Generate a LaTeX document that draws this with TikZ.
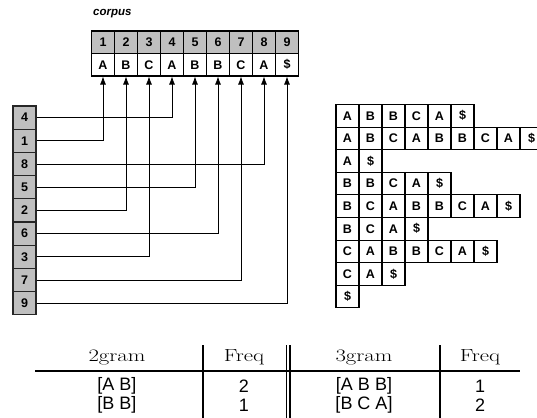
\documentclass[tikz,border=0pt]{standalone}
\usepackage{fontspec}
\setsansfont{Liberation Sans}
\usetikzlibrary{arrows.meta}
\newcommand\hdrtxt[1]{\scalebox{1.3}[1]{\fontsize{17.5}{17.5}\selectfont #1}}
\tikzset{
  cellbase/.style={rectangle, draw=black, line width=1.1pt, inner sep=0pt,
    minimum width=23pt, minimum height=22.5pt,
    font=\sffamily\bfseries\fontsize{12.5}{12.5}\selectfont},
  numcell/.style={cellbase, fill=black!25},
  letcell/.style={cellbase, fill=white},
  sacell/.style={cellbase, fill=black!25, draw=black!85, line width=1.3pt, minimum height=23.2pt},
  sfxcell/.style={cellbase, fill=white, minimum height=22.6pt},
  link/.style={draw=black, line width=0.8pt, -{Latex[length=8pt,width=6pt]}},
  rule/.style={draw=black, line width=1.4pt},
  hdr/.style={inner sep=0pt, font=\rmfamily},
  dat/.style={inner sep=0pt, font=\sffamily\fontsize{18}{18}\selectfont},
}
\begin{document}
\begin{tikzpicture}[x=1pt,y=-1pt]
\useasboundingbox (0,0) rectangle (537,417);
\clip (0,0) rectangle (537,417);
% corpus label
\node[anchor=west, inner sep=0pt, font=\sffamily\bfseries\itshape\fontsize{11.5}{11.5}\selectfont] (corpus) at (93,14) {corpus};
% corpus grid
\foreach \ch [count=\i] in {A,B,C,A,B,B,C,A,\$} {
  \node[numcell] (n\i) at ({91.5+23*(\i-0.5)},42.25) {\i};
  \node[letcell] (c\i) at ({91.5+23*(\i-0.5)},64.75) {\ch};
}
% suffix array column
\foreach \v [count=\k] in {4,1,8,5,2,6,3,7,9} {
  \node[sacell] (s\k) at (24.5,{106+23.2*(\k-0.5)}) {\v};
}
\foreach \v [count=\k] in {4,1,8,5,2,6,3,7,9} {
  \draw[link] (s\k.east) -| (c\v.south);
}
% sorted suffixes
\foreach \row [count=\r] in {{A,B,B,C,A,\$},{A,B,C,A,B,B,C,A,\$},{A,\$},{B,B,C,A,\$},{B,C,A,B,B,C,A,\$},{B,C,A,\$},{C,A,B,B,C,A,\$},{C,A,\$},{\$}} {
  \foreach \ch [count=\j] in \row {
    \node[sfxcell] (r\r-\j) at ({336+23*(\j-0.5)},{104.5+22.6*(\r-0.5)}) {\ch};
  }
}
% table
\coordinate (hl) at (35,371);
\coordinate (hr) at (520,371);
\coordinate (v1t) at (203,345);   \coordinate (v1b) at (203,420);
\coordinate (v2at) at (286.6,345); \coordinate (v2ab) at (286.6,420);
\coordinate (v2bt) at (290,345);  \coordinate (v2bb) at (290,420);
\coordinate (v3t) at (440,345);   \coordinate (v3b) at (440,420);
\draw[rule] (hl) -- (hr);
\draw[rule] (v1t) -- (v1b);
\draw[rule] (v2at) -- (v2ab);
\draw[rule] (v2bt) -- (v2bb);
\draw[rule] (v3t) -- (v3b);
\node[hdr] (h1) at (117,357) {\hdrtxt{2gram}};
\node[hdr] (h2) at (244,357) {\hdrtxt{Freq}};
\node[hdr] (h3) at (364,357) {\hdrtxt{3gram}};
\node[hdr] (h4) at (480,357) {\hdrtxt{Freq}};
\node[dat] (d11) at (117,386) {[A B]};
\node[dat] (d12) at (244,386) {2};
\node[dat] (d13) at (364,386) {[A B B]};
\node[dat] (d14) at (480,386) {1};
\node[dat] (d21) at (117,405) {[B B]};
\node[dat] (d22) at (244,405) {1};
\node[dat] (d23) at (364,405) {[B C A]};
\node[dat] (d24) at (480,405) {2};
\end{tikzpicture}
\end{document}
